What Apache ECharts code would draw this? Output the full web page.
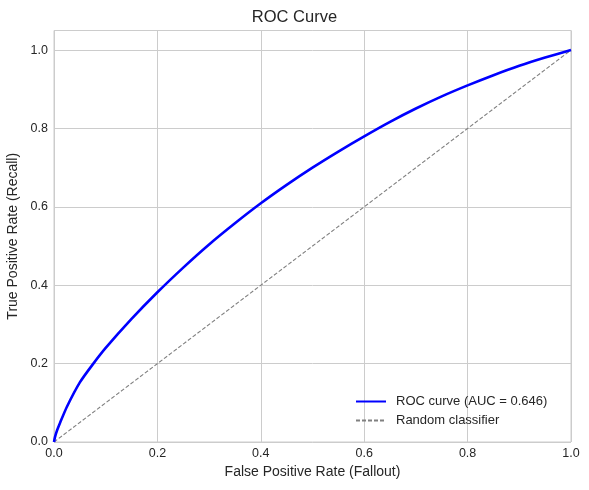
<!DOCTYPE html>
<html>
<head>
<meta charset="utf-8">
<style>
    html, body { margin: 0; padding: 0; background: #fff; }
    #chart { width: 589px; height: 490px; }
</style>
<script src="https://cdn.jsdelivr.net/npm/echarts@6/dist/echarts.min.js"></script>
</head>
<body>
<div id="chart"></div>
<script>
// ROC curve points
var fpr = [0, 0.002, 0.006, 0.012, 0.025, 0.05, 0.075, 0.1, 0.15, 0.2, 0.25, 0.3, 0.35, 0.4, 0.45,
    0.5, 0.55, 0.6, 0.65, 0.7, 0.75, 0.8, 0.85, 0.9, 0.95, 1.0];
var tpr = [0, 0.013, 0.03, 0.05, 0.09, 0.152, 0.198, 0.24, 0.314, 0.382, 0.445, 0.504, 0.558, 0.609, 0.656,
    0.7, 0.741, 0.78, 0.817, 0.851, 0.882, 0.91, 0.936, 0.96, 0.981, 1.0];
// random classifier diagonal
var diagX = [0, 1];
var diagY = [0, 1];
var rocName = "ROC curve (AUC = 0.646)";
var randomName = "Random classifier";

var font = "'Liberation Sans', Arial, sans-serif";
var textColor = "#262626";

function pairs(xs, ys) {
    var out = [];
    for (var i = 0; i < xs.length; i++) {
        out.push([xs[i], ys[i]]);
    }
    return out;
}

var chart = echarts.init(document.getElementById("chart"));
chart.setOption({
    animation: false,
    title: {
        text: "ROC Curve",
        left: "center",
        top: 4,
        textStyle: { fontFamily: font, fontSize: 16.5, fontWeight: "normal", color: textColor }
    },
    grid: {
        left: 54,
        right: 18,
        top: 30.5,
        bottom: 48,
        outerBoundsMode: "none",
        show: true,
        borderColor: "#cccccc",
        borderWidth: 1
    },
    legend: {
        orient: "vertical",
        left: 355,
        top: 395,
        padding: 0,
        itemWidth: 30,
        itemHeight: 14,
        itemGap: 6,
        itemStyle: { opacity: 0 },
        textStyle: { fontFamily: font, fontSize: 13, color: textColor, padding: [0, 0, 0, 5] },
        data: [rocName, randomName]
    },
    xAxis: {
        type: "value",
        min: 0,
        max: 1,
        interval: 0.2,
        name: "False Positive Rate (Fallout)",
        nameLocation: "middle",
        nameGap: 20,
        nameTextStyle: { fontFamily: font, fontSize: 14, color: textColor },
        axisLine: { show: false },
        axisTick: { show: false },
        axisLabel: {
            margin: 5,
            fontFamily: font,
            fontSize: 12.5,
            color: textColor,
            formatter: function(v) { return v.toFixed(1); }
        },
        splitLine: { lineStyle: { color: "#cccccc", width: 1 } }
    },
    yAxis: {
        type: "value",
        min: 0,
        max: 1.05,
        interval: 0.2,
        name: "True Positive Rate (Recall)",
        nameLocation: "middle",
        nameGap: 31,
        nameTextStyle: { fontFamily: font, fontSize: 14, color: textColor },
        axisLine: { show: false },
        axisTick: { show: false },
        axisLabel: {
            margin: 6,
            fontFamily: font,
            fontSize: 12.5,
            color: textColor,
            showMaxLabel: false,
            formatter: function(v) { return v.toFixed(1); }
        },
        splitLine: { lineStyle: { color: "#cccccc", width: 1 } }
    },
    series: [
        {
            name: rocName,
            type: "line",
            data: pairs(fpr, tpr),
            symbol: "none",
            smooth: 0.2,
            lineStyle: { color: "#0000ff", width: 2.6 },
            itemStyle: { color: "#0000ff" },
            z: 3
        },
        {
            name: randomName,
            type: "line",
            data: pairs(diagX, diagY),
            symbol: "none",
            lineStyle: { color: "#808080", width: 1.1, type: [4, 2] },
            itemStyle: { color: "#808080" },
            z: 2
        }
    ]
});
</script>
</body>
</html>
